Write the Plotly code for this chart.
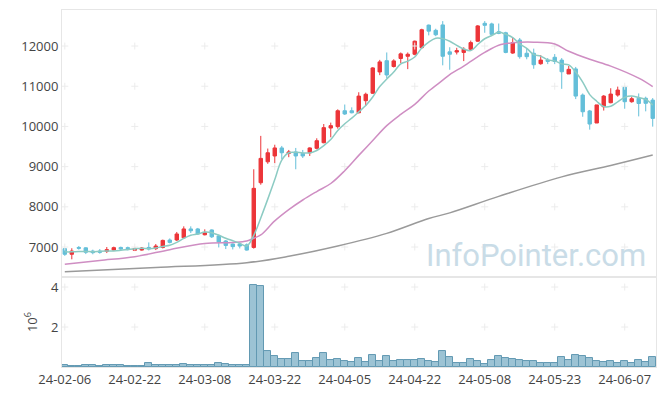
import plotly.graph_objects as go

dates = ["24-02-06","24-02-07","24-02-08","24-02-13","24-02-14","24-02-15","24-02-16","24-02-19","24-02-20","24-02-21",
         "24-02-22","24-02-23","24-02-26","24-02-27","24-02-28","24-02-29","24-03-04","24-03-05","24-03-06","24-03-07",
         "24-03-08","24-03-11","24-03-12","24-03-13","24-03-14","24-03-15","24-03-18","24-03-19","24-03-20","24-03-21",
         "24-03-22","24-03-25","24-03-26","24-03-27","24-03-28","24-03-29","24-04-01","24-04-02","24-04-03","24-04-04",
         "24-04-05","24-04-08","24-04-09","24-04-11","24-04-12","24-04-15","24-04-16","24-04-17","24-04-18","24-04-19",
         "24-04-22","24-04-23","24-04-24","24-04-25","24-04-26","24-04-29","24-04-30","24-05-02","24-05-03","24-05-07",
         "24-05-08","24-05-09","24-05-10","24-05-13","24-05-14","24-05-16","24-05-17","24-05-20","24-05-21","24-05-22",
         "24-05-23","24-05-24","24-05-27","24-05-28","24-05-29","24-05-30","24-05-31","24-06-03","24-06-04","24-06-05",
         "24-06-07","24-06-10","24-06-11","24-06-12","24-06-13"]

open_ = [6960,6820,6990,6980,6900,6900,6895,6925,6990,6985,
         6920,6925,6990,6960,6990,7175,7175,7230,7450,7450,
         7305,7425,7275,7150,7075,7075,7055,6990,8600,9120,
         9265,9465,9330,9365,9330,9345,9455,9595,9960,9995,
         10390,10390,10340,10640,10825,11355,11635,11490,11690,11745,
         11795,11960,12520,12390,12525,11855,11850,11840,11920,12120,
         12565,12550,12355,12330,11825,12150,11820,11820,11560,11650,
         11720,11650,11305,11430,10780,10385,10085,10490,10590,10780,
         10975,10615,10700,10700,10655]
high = [6975,6970,7025,6995,6935,6950,7000,7010,7010,7010,
        7000,7000,7115,7075,7185,7215,7375,7515,7515,7475,
        7440,7440,7315,7175,7090,7110,7090,8935,9765,9450,
        9545,9515,9415,9465,9415,9480,9705,10060,10095,10425,
        10545,10475,10850,10840,11475,11655,11840,11670,11840,11840,
        12135,12430,12535,12430,12620,11970,11955,11970,12135,12520,
        12620,12580,12560,12355,12215,12200,11935,11935,11775,11700,
        11800,11700,11505,11480,10820,10410,10535,10780,10950,10990,
        11010,10740,10820,10740,10705]
low = [6780,6695,6935,6825,6820,6835,6850,6915,6915,6915,
       6900,6910,6915,6925,6965,7090,7150,7205,7350,7300,
       7290,7225,6990,6950,6940,6965,6910,6960,8550,9070,
       9085,9185,9235,8935,9215,9265,9430,9580,9730,9945,
       10285,10325,10325,10510,10810,11275,11200,11465,11575,11425,
       11770,11930,12265,12245,11520,11410,11790,11625,11890,12105,
       12330,12275,12295,11820,11805,11685,11670,11435,11535,11550,
       11550,10935,11305,10680,10240,9920,10085,10395,10575,10740,
       10440,10590,10250,10375,9995]
close = [6820,6900,6970,6870,6860,6870,6935,6985,6950,6960,
         6965,6975,6950,7025,7165,7115,7325,7450,7405,7325,
         7355,7255,7125,7040,7010,7025,6925,8460,9205,9345,
         9465,9345,9365,9265,9265,9465,9645,9970,10020,10390,
         10310,10340,10755,10800,11455,11605,11280,11630,11805,11795,
         12120,12405,12370,12280,11745,11795,11885,11920,12085,12500,
         12515,12290,12315,11840,12085,11735,11735,11535,11650,11620,
         11615,11360,11420,10755,10365,10060,10535,10755,10805,10905,
         10615,10690,10570,10575,10200]

# volume in millions of shares
volume_m = [0.08,0.03,0.03,0.08,0.08,0.03,0.08,0.08,0.08,0.03,
            0.03,0.03,0.2,0.08,0.08,0.08,0.08,0.15,0.08,0.08,
            0.08,0.08,0.2,0.15,0.08,0.08,0.08,4.1,4.05,0.8,
            0.55,0.4,0.4,0.7,0.3,0.3,0.45,0.7,0.37,0.42,
            0.32,0.25,0.45,0.25,0.6,0.32,0.55,0.3,0.35,0.35,
            0.35,0.4,0.32,0.25,0.8,0.5,0.2,0.2,0.4,0.3,
            0.15,0.35,0.55,0.45,0.4,0.35,0.3,0.3,0.2,0.2,
            0.2,0.5,0.35,0.6,0.55,0.45,0.3,0.25,0.3,0.2,
            0.3,0.2,0.35,0.25,0.5]

# 5-day moving average (read / derived from closes)
ma5 = [6880,6880,6890,6890,6884,6894,6901,6904,6920,6940,
       6959,6967,6960,6975,7016,7046,7116,7216,7292,7324,
       7372,7358,7293,7220,7157,7091,7025,7292,7725,8192,
       8680,9164,9345,9357,9341,9341,9401,9522,9673,9898,
       10067,10206,10363,10519,10732,10991,11179,11354,11555,11623,
       11726,11951,12099,12194,12184,12119,12015,11925,11886,12037,
       12181,12262,12341,12292,12209,12053,11942,11786,11748,11655,
       11631,11556,11533,11354,11103,10792,10627,10494,10504,10612,
       10723,10754,10717,10671,10530]

# 20-day moving average, read at knots (index into dates)
ma20_idx = [0,5,10,15,20,24,26,27,28,30,32,34,36,38,40,42,44,46,48,50,52,54,55,57,60,62,64,67,70,72,75,78,82,84]
ma20_val = [6570,6665,6760,6935,7090,7115,7150,7220,7300,7650,7930,8170,8380,8580,8900,9280,9650,10020,10300,10550,
            10880,11150,11290,11500,11840,12020,12080,12095,12050,11870,11670,11500,11200,10990]

# long moving average, read at knots
malong_idx = [0,13,26,32,39,46,52,55,62,71,78,84]
malong_val = [6385,6490,6610,6770,7025,7340,7710,7850,8260,8745,9030,9290]

price_ticks = [7000,8000,9000,10000,11000,12000]
vol_ticks_m = [2,4]
tick_dates = dates[::10]

FONT = "Open Sans"
GRID = "#ececec"
AX = "#e6e6e6"

fig = go.Figure()

# cross-style grid marks at tick intersections
gx, gy = [], []
for d in tick_dates:
    for p in price_ticks:
        gx.append(d); gy.append(p)
fig.add_trace(go.Scatter(x=gx, y=gy, mode="markers", xaxis="x", yaxis="y",
                         marker=dict(symbol="cross-thin", size=5, line=dict(color=GRID, width=1)),
                         hoverinfo="skip", showlegend=False))
vx, vy = [], []
for d in tick_dates:
    for v in vol_ticks_m:
        vx.append(d); vy.append(v * 1e6)
fig.add_trace(go.Scatter(x=vx, y=vy, mode="markers", xaxis="x2", yaxis="y2",
                         marker=dict(symbol="cross-thin", size=5, line=dict(color=GRID, width=1)),
                         hoverinfo="skip", showlegend=False))

fig.add_trace(go.Scatter(x=[dates[i] for i in malong_idx], y=malong_val, mode="lines",
                         line=dict(color="#9a9a9a", width=1.5, shape="spline"),
                         xaxis="x", yaxis="y", showlegend=False))
fig.add_trace(go.Scatter(x=[dates[i] for i in ma20_idx], y=ma20_val, mode="lines",
                         line=dict(color="#cf8ec3", width=1.5, shape="spline"),
                         xaxis="x", yaxis="y", showlegend=False))

fig.add_trace(go.Candlestick(x=dates, open=open_, high=high, low=low, close=close,
                             increasing=dict(fillcolor="#ec3539", line=dict(color="#ec3539", width=1)),
                             decreasing=dict(fillcolor="#64bfd9", line=dict(color="#64bfd9", width=1)),
                             xaxis="x", yaxis="y", showlegend=False))

fig.add_trace(go.Scatter(x=dates, y=ma5, mode="lines",
                         line=dict(color="#8ccbc3", width=1.5, shape="spline"),
                         xaxis="x", yaxis="y", showlegend=False))

fig.add_trace(go.Bar(x=dates, y=[v * 1e6 for v in volume_m], xaxis="x2", yaxis="y2",
                     marker=dict(color="#9cc3d4", line=dict(color="#6299b2", width=1)),
                     showlegend=False))

fig.add_annotation(text="InfoPointer.com", xref="paper", yref="paper", x=0.9865, y=0.3137,
                   xanchor="right", yanchor="middle", showarrow=False,
                   font=dict(family="Roboto", size=31, color="#c9dce7"))

xcommon = dict(type="category", categoryorder="array", categoryarray=dates,
               range=[-0.4, 84.47], showgrid=False, zeroline=False, automargin=False,
               showline=True, mirror=True, linecolor=AX, linewidth=1, ticks="")
fig.update_layout(
    width=665, height=396,
    margin=dict(l=62, r=9, t=10, b=29, autoexpand=False),
    paper_bgcolor="white", plot_bgcolor="white",
    font=dict(family=FONT, size=13, color="#444"),
    bargap=0,
    xaxis=dict(domain=[0, 1], anchor="y", showticklabels=False, rangeslider=dict(visible=False), **xcommon),
    xaxis2=dict(domain=[0, 1], anchor="y2", matches="x", tickvals=tick_dates, ticktext=tick_dates,
                tickfont=dict(size=13, color="#444"), **xcommon),
    yaxis=dict(domain=[0.252, 1], anchor="x", range=[6254, 12896], tickvals=price_ticks,
               ticktext=[str(p) for p in price_ticks], automargin=False,
               showgrid=False, zeroline=False, showline=True, mirror=True, linecolor=AX, ticks="",
               tickfont=dict(size=13, color="#444")),
    yaxis2=dict(domain=[0, 0.252], anchor="x2", range=[0, 4.5e6], tickvals=[v * 1e6 for v in vol_ticks_m],
                ticktext=[str(v) for v in vol_ticks_m], automargin=False,
                showgrid=False, zeroline=False, showline=True, mirror=True, linecolor=AX, ticks="",
                tickfont=dict(size=13, color="#444"),
                title=dict(text="10<sup>6</sup>", standoff=10, font=dict(size=13, color="#444"))),
    hovermode=False,
)

fig.write_html("out.html", config={"displayModeBar": False},
               post_script="document.body.style.margin='0';")
